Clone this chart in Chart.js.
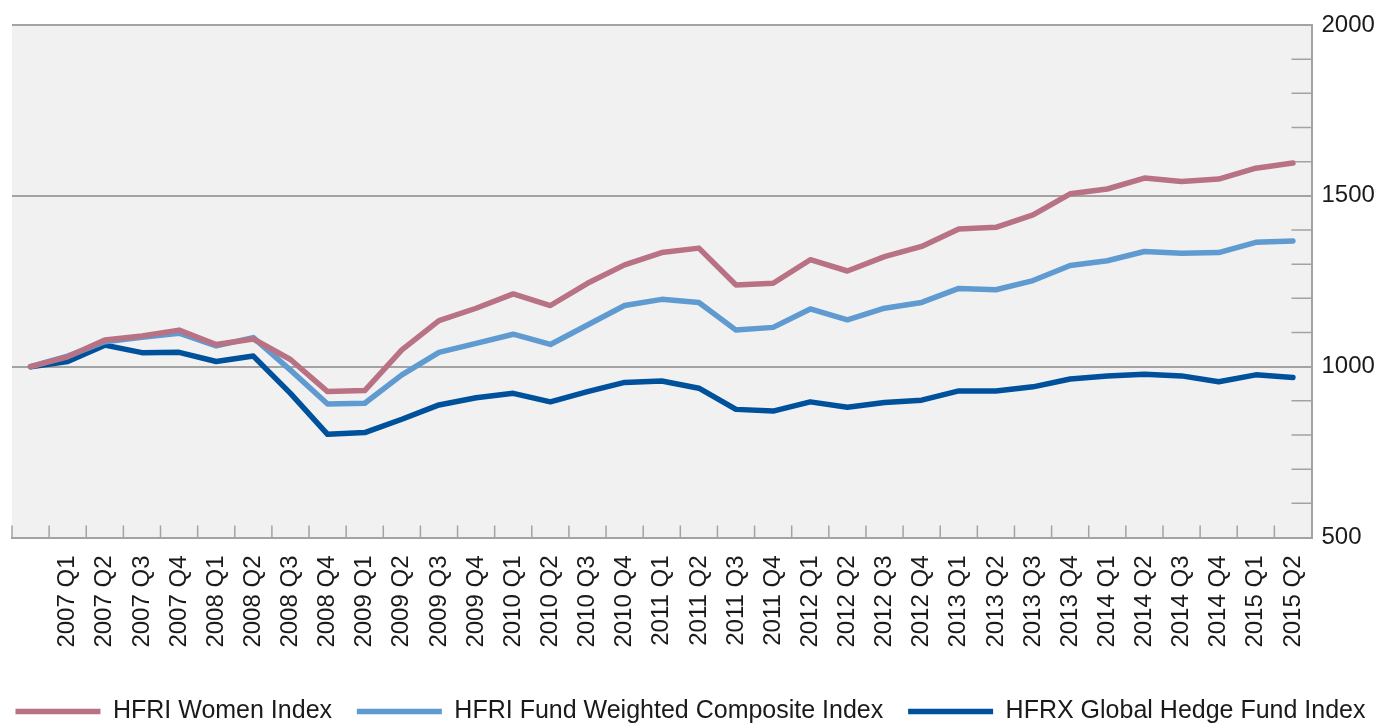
<!DOCTYPE html>
<html>
<head>
<meta charset="utf-8">
<script src="https://cdn.jsdelivr.net/npm/chart.js@4.4.1/dist/chart.umd.min.js"></script>
<style>
    html, body { margin: 0; padding: 0; background: #fff; overflow: hidden; }
    #wrap { position: relative; width: 1381px; height: 734px; }
</style>
</head>
<body>
<div id="wrap"><canvas id="chart"></canvas></div>
<script>
// --- Dados ---
const quarters = ['',
    '2007 Q1', '2007 Q2', '2007 Q3', '2007 Q4',
    '2008 Q1', '2008 Q2', '2008 Q3', '2008 Q4',
    '2009 Q1', '2009 Q2', '2009 Q3', '2009 Q4',
    '2010 Q1', '2010 Q2', '2010 Q3', '2010 Q4',
    '2011 Q1', '2011 Q2', '2011 Q3', '2011 Q4',
    '2012 Q1', '2012 Q2', '2012 Q3', '2012 Q4',
    '2013 Q1', '2013 Q2', '2013 Q3', '2013 Q4',
    '2014 Q1', '2014 Q2', '2014 Q3', '2014 Q4',
    '2015 Q1', '2015 Q2'];
const womenIndex = [1000, 1029, 1078, 1090, 1107, 1065, 1081, 1021, 927, 930, 1049, 1135, 1171, 1213, 1179, 1244, 1298, 1334, 1347, 1239, 1244, 1313, 1280, 1322, 1352, 1403, 1408, 1444, 1506, 1520, 1552, 1542, 1549, 1581, 1596];
const compositeIndex = [1000, 1031, 1073, 1086, 1098, 1061, 1085, 990, 891, 893, 976, 1042, 1068, 1095, 1065, 1122, 1179, 1197, 1188, 1107, 1115, 1169, 1137, 1171, 1188, 1229, 1225, 1252, 1296, 1310, 1337, 1332, 1334, 1364, 1368];
const globalIndex = [1000, 1015, 1063, 1041, 1042, 1015, 1031, 922, 802, 807, 846, 888, 909, 922, 897, 927, 954, 958, 937, 875, 870, 897, 881, 895, 902, 929, 929, 941, 964, 973, 978, 973, 956, 976, 968];
const yMin = 500, yMax = 2000, yStep = 100, yLabelStep = 500;

const FONT = '"Liberation Sans", Arial, Helvetica, sans-serif';
const AXIS_GRAY = '#a3a3a3';

// fundo cinza + tracinhos internos dos eixos
const plotDecor = {
    id: 'plotDecor',
    beforeDraw(chart) {
        const { ctx, chartArea: a } = chart;
        ctx.save();
        ctx.fillStyle = '#f1f1f1';
        ctx.fillRect(a.left, a.top, a.right - a.left, a.bottom - a.top);
        ctx.restore();
    },
    beforeDatasetsDraw(chart) {
        const { ctx, chartArea: a, scales: { x, y } } = chart;
        ctx.save();
        ctx.strokeStyle = AXIS_GRAY;
        ctx.lineWidth = 1.5;
        ctx.beginPath();
        y.ticks.forEach(t => {
            if (t.value % yLabelStep !== 0) {
                const py = y.getPixelForValue(t.value);
                ctx.moveTo(a.right - 20, py);
                ctx.lineTo(a.right, py);
            }
        });
        const half = (x.getPixelForValue(1) - x.getPixelForValue(0)) / 2;
        for (let i = 0; i < quarters.length; i++) {
            const px = x.getPixelForValue(i) - half;
            ctx.moveTo(px, a.bottom - 12);
            ctx.lineTo(px, a.bottom);
        }
        ctx.stroke();
        ctx.restore();
    }
};

function lineSet(label, data, color) {
    return {
        label: label,
        data: data,
        borderColor: color,
        backgroundColor: color,
        borderWidth: 5.5,
        borderCapStyle: 'round',
        borderJoinStyle: 'round',
        pointRadius: 0,
        tension: 0,
        fill: false
    };
}

// legenda: espaços no fim do texto para afastar os itens sem quebrar a linha
const defaultLabels = Chart.defaults.plugins.legend.labels.generateLabels;
function spacedLabels(chart) {
    const items = defaultLabels(chart);
    items.forEach((it, i) => { if (i < items.length - 1) it.text = it.text + '   '; });
    return items;
}

new Chart(document.getElementById('chart'), {
    type: 'line',
    data: {
        labels: quarters,
        datasets: [
            lineSet('HFRI Women Index', womenIndex, '#b97284'),
            lineSet('HFRI Fund Weighted Composite Index', compositeIndex, '#5f9bd0'),
            lineSet('HFRX Global Hedge Fund Index', globalIndex, '#00519b')
        ]
    },
    options: {
        responsive: true,
        maintainAspectRatio: false,
        animation: false,
        layout: { padding: { top: 25, left: 0, right: 0, bottom: 0 } },
        plugins: {
            tooltip: { enabled: false },
            legend: {
                position: 'bottom',
                labels: {
                    usePointStyle: true,
                    pointStyle: 'line',
                    pointStyleWidth: 85,
                    padding: 4,
                    color: '#1a1a1a',
                    font: { family: FONT, size: 25 },
                    generateLabels: spacedLabels
                }
            }
        },
        scales: {
            x: {
                offset: true,
                grid: { display: true, drawOnChartArea: false, drawTicks: false },
                border: { display: true, color: AXIS_GRAY, width: 2 },
                ticks: {
                    autoSkip: false,
                    maxRotation: 90,
                    minRotation: 90,
                    padding: 18,
                    color: '#1a1a1a',
                    font: { family: FONT, size: 24 }
                },
                afterFit(scale) { scale.height = 157.5; }
            },
            y: {
                position: 'right',
                min: yMin,
                max: yMax,
                grid: {
                    drawTicks: false,
                    lineWidth: 2,
                    color: c => (c.tick && c.tick.value % yLabelStep === 0) ? AXIS_GRAY : 'rgba(0,0,0,0)'
                },
                border: { display: true, color: AXIS_GRAY, width: 2 },
                ticks: {
                    stepSize: yStep,
                    autoSkip: false,
                    padding: 10,
                    color: '#1a1a1a',
                    font: { family: FONT, size: 24 },
                    callback: v => (v % yLabelStep === 0 ? v : '')
                },
                afterFit(scale) { scale.width = 69.5; }
            },
            // margem esquerda vazia (12px) só para a área do gráfico
            yLeft: {
                position: 'left',
                display: true,
                grid: { display: false },
                border: { display: false },
                ticks: { display: false },
                afterFit(scale) { scale.width = 12; }
            }
        }
    },
    plugins: [plotDecor]
});
</script>
</body>
</html>
